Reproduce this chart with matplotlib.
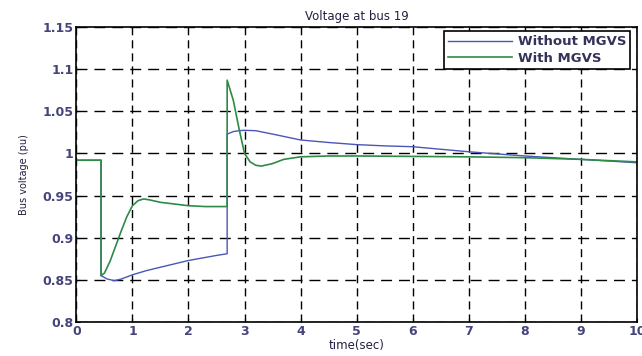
import matplotlib
matplotlib.use("Agg")
import matplotlib.pyplot as plt

# Without MGVS (blue)
t_without = [0, 0.44, 0.44, 0.55, 0.68, 0.8, 1.0, 1.25, 1.5, 1.75, 2.0, 2.25, 2.5, 2.69,
             2.69, 2.8, 2.9, 3.0, 3.2, 3.5, 4.0, 4.5, 5.0, 5.5, 6.0, 6.5, 7.0, 7.5, 8.0,
             8.5, 9.0, 9.5, 10]
v_without = [0.992, 0.992, 0.855, 0.851, 0.849, 0.851, 0.856, 0.861, 0.865, 0.869, 0.873,
             0.876, 0.879, 0.881, 1.023, 1.026, 1.027, 1.0275, 1.027, 1.023, 1.016, 1.013,
             1.0105, 1.009, 1.008, 1.005, 1.002, 0.9995, 0.997, 0.995, 0.993, 0.991, 0.989]

# With MGVS (green)
t_with = [0, 0.44, 0.44, 0.5, 0.6, 0.7, 0.8, 0.9, 1.0, 1.1, 1.2, 1.3, 1.5, 1.75, 2.0, 2.3,
          2.69, 2.69, 2.8, 2.9, 3.0, 3.1, 3.2, 3.3, 3.5, 3.7, 4.0, 4.5, 5, 6, 7, 8, 9, 10]
v_with = [0.992, 0.992, 0.855, 0.858, 0.872, 0.89, 0.908, 0.925, 0.938, 0.944, 0.946,
          0.945, 0.942, 0.940, 0.938, 0.937, 0.937, 1.087, 1.063, 1.03, 1.0, 0.99, 0.986,
          0.985, 0.988, 0.993, 0.996, 0.997, 0.997, 0.9965, 0.996, 0.995, 0.993, 0.990]

xticks = list(range(0, 11))
yticks = [0.8, 0.85, 0.9, 0.95, 1.0, 1.05, 1.1, 1.15]
ytick_labels = ["0.8", "0.85", "0.9", "0.95", "1", "1.05", "1.1", "1.15"]

plt.rcParams['font.family'] = ['DejaVu Sans']

fig = plt.figure(figsize=(6.42, 3.56), dpi=100)
ax = fig.add_axes([0.119, 0.0955, 0.873, 0.8285])

ax.plot(t_without, v_without, color='#4a56b8', lw=1.0, label='Without MGVS')
ax.plot(t_with, v_with, color='#2e8b45', lw=1.2, label='With MGVS')

ax.set_xlim(0, 10)
ax.set_ylim(0.8, 1.15)
ax.set_xticks(xticks)
ax.set_xticklabels([str(x) for x in xticks], fontweight='bold')
ax.set_yticks(yticks)
ax.set_yticklabels(ytick_labels, fontweight='bold')
ax.tick_params(direction='in', labelsize=9, labelcolor='#44447a', length=3, pad=2)
ax.xaxis.grid(True, color='black', linestyle=(0, (5.8, 3.6)), linewidth=1.0)
ax.yaxis.grid(True, color='black', linestyle=(0, (7.9, 5.0)), linewidth=1.0)
for s in ax.spines.values():
    s.set_linewidth(1.2)

ax.set_title('Voltage at bus 19', fontsize=8.5, pad=5, color='#202040')
ax.set_xlabel('time(sec)', fontsize=8.5, labelpad=1, color='#202040')
ax.set_ylabel('Bus voltage (pu)', fontsize=7, labelpad=10, color='#202040')

leg = ax.legend(loc='upper right', prop={'size': 9.5, 'weight': 'bold'}, fancybox=False,
                framealpha=1, edgecolor='black', borderpad=0.3, handlelength=4.8,
                handletextpad=0.45, labelspacing=0.25, borderaxespad=0,
                bbox_to_anchor=(0.988, 0.985))
leg.get_frame().set_linewidth(1.2)
for txt in leg.get_texts():
    txt.set_color('#33335a')

fig.savefig('out.png', dpi=100)
